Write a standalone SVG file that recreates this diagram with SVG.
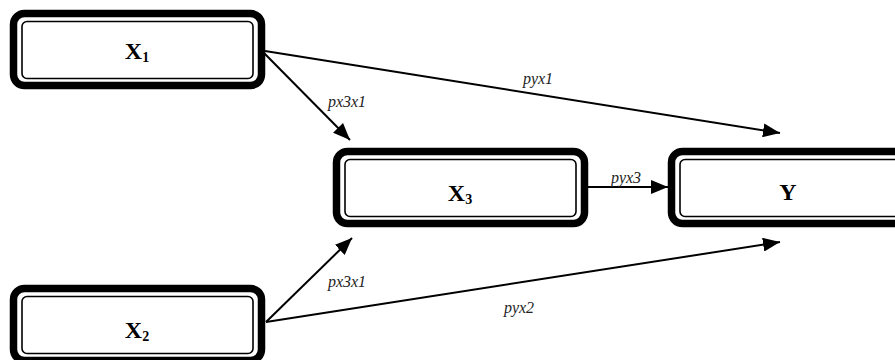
<svg xmlns="http://www.w3.org/2000/svg" width="895" height="360" viewBox="0 0 895 360">
<style>
.outer{fill:#fff;stroke:#000;stroke-width:7.5}
.inner{fill:none;stroke:#000;stroke-width:1.6}
.name{font-family:'Liberation Serif','DejaVu Serif',serif;font-weight:bold;font-size:24px;fill:#000;text-anchor:middle}
.lbl{font-family:'Liberation Serif','DejaVu Serif',serif;font-style:italic;font-size:16px;fill:#222;text-anchor:middle}
.edge{stroke:#000;stroke-width:2;fill:none;marker-end:url(#arr)}
</style>
<defs>
<marker id="arr" viewBox="0 0 17 14" refX="17" refY="7" markerWidth="17" markerHeight="14" markerUnits="userSpaceOnUse" orient="auto">
<path d="M0,0 L17,7 L0,14 z" fill="#000"/>
</marker>
<g id="box">
<rect class="outer" x="3.5" y="3.5" width="248" height="72" rx="11"/>
<rect class="inner" x="12" y="11.5" width="231" height="57" rx="5"/>
</g>
</defs>
<g id="connectors">
<line class="edge" x1="265" y1="51" x2="780" y2="133"/>
<line class="edge" x1="264" y1="53" x2="350" y2="140"/>
<line class="edge" x1="588" y1="187" x2="668" y2="187"/>
<line class="edge" x1="266" y1="322" x2="352" y2="238"/>
<line class="edge" x1="266" y1="322" x2="780" y2="242"/>
<text class="lbl" x="538" y="84">pyx1</text>
<text class="lbl" x="347" y="107">px3x1</text>
<text class="lbl" x="626" y="183">pyx3</text>
<text class="lbl" x="347" y="287">px3x1</text>
<text class="lbl" x="519" y="313">pyx2</text>
</g>
<g id="node-x1" transform="translate(10,10)">
<use href="#box"/>
<text class="name" x="127" y="49">X<tspan font-size="14" dy="3">1</tspan></text>
</g>
<g id="node-x3" transform="translate(333,148)">
<use href="#box"/>
<text class="name" x="127" y="53">X<tspan font-size="14" dy="3">3</tspan></text>
</g>
<g id="node-y" transform="translate(668,148)">
<use href="#box"/>
<text class="name" x="120" y="52">Y</text>
</g>
<g id="node-x2" transform="translate(10,285)">
<use href="#box"/>
<text class="name" x="127" y="53">X<tspan font-size="14" dy="3">2</tspan></text>
</g>
</svg>
